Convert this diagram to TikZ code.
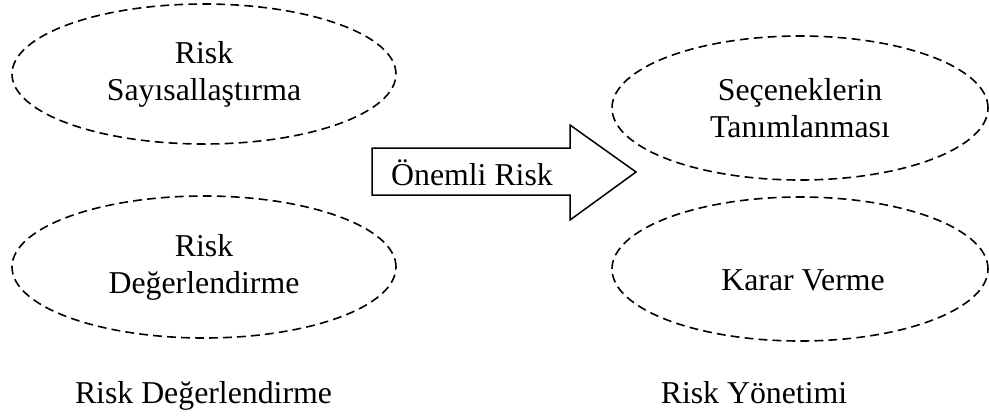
\documentclass[tikz,border=0pt]{standalone}
\usepackage{fontspec}
\setmainfont{Liberation Serif}
\usetikzlibrary{shapes.geometric,positioning}

\begin{document}
\begin{tikzpicture}[
	x=0.5pt, y=-0.5pt,
	every node/.style = {font=\fontsize{15.9}{18.4}\selectfont, align=center},
	zone/.style = {shape=ellipse, draw, line width=0.8pt,
		dash pattern=on 4.4pt off 2.6pt, inner sep=0pt,
		minimum width=192pt, minimum height=70pt},
	blockarrow/.style = {draw, line width=0.75pt, line join=miter}
]
\useasboundingbox (0,0) rectangle (989,418);
% left group
\node[zone] (sayisal) at (204,74) {Risk\\Sayısallaştırma};
\node[zone, minimum height=71pt] (degerlendirme) at (204,267) {Risk\\Değerlendirme};
% right group
\node[zone, minimum width=188pt, minimum height=72pt] (secenek) at (800,108) {Seçeneklerin\\Tanımlanması};
\node[zone, minimum width=188pt, minimum height=72pt] (karar) at (800,269) {};
\node[anchor=base] (kararlbl) at (803,290) {Karar Verme};
% arrow
\draw[blockarrow] (372,148) -- (570,148) -- (570,125) -- (636,172)
	-- (570,220) -- (570,195) -- (372,195) -- cycle;
\node[anchor=base] (onemli) at (472,185) {Önemli Risk};
% captions
\node[anchor=base] (solbaslik) at (203.5,403) {Risk Değerlendirme};
\node[anchor=base] (sagbaslik) at (754,403) {Risk Yönetimi};
\end{tikzpicture}
\end{document}
